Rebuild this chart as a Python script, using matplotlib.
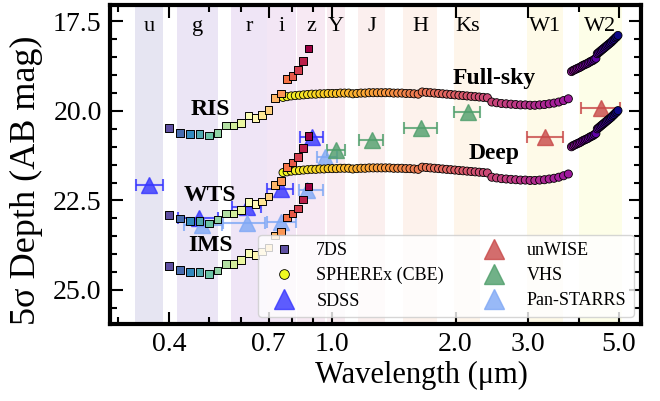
import numpy as np
import matplotlib
matplotlib.use("Agg")
import matplotlib.pyplot as plt
from matplotlib.lines import Line2D
from matplotlib.ticker import FixedLocator, NullFormatter, MultipleLocator

plt.rcParams["font.family"] = ["Liberation Serif", "DejaVu Serif"]

# filter bands drawn as shaded columns
BAND_NAMES = ["u", "g", "r", "i", "z", "Y", "J", "H", "Ks", "W1", "W2"]
BAND_LO = [0.331, 0.419, 0.567, 0.694, 0.822, 0.972, 1.157, 1.49, 1.985, 2.99, 4.00]
BAND_HI = [0.387, 0.527, 0.694, 0.818, 0.961, 1.076, 1.347, 1.80, 2.30, 3.66, 5.10]

# 7DS medium bands
WAVE_7DS = [0.400, 0.425, 0.450, 0.475, 0.500, 0.525, 0.550, 0.575, 0.600, 0.625,
            0.650, 0.675, 0.700, 0.725, 0.750, 0.775, 0.800, 0.825, 0.850, 0.875]
RIS_DEPTH = [20.47, 20.61, 20.65, 20.65, 20.69, 20.62, 20.41, 20.41, 20.34, 20.13,
             20.19, 20.11, 19.97, 19.63, 19.51, 19.11, 19.02, 18.85, 18.60, 18.25]
WTS_DEPTH = [22.91, 23.00, 23.07, 23.07, 23.14, 23.03, 22.86, 22.86, 22.77, 22.55,
             22.60, 22.53, 22.39, 22.07, 21.95, 21.56, 21.44, 21.29, 21.03, 20.70]
IMS_DEPTH = [24.33, 24.44, 24.49, 24.49, 24.55, 24.46, 24.28, 24.28, 24.16, 23.96,
             24.02, 23.93, 23.81, 23.48, 23.37, 22.98, 22.86, 22.72, 22.47, 22.11]

# SPHEREx channels (6 detector bands x 17)
SPHEREX_WAVE = [
    0.7587, 0.7764, 0.7945, 0.8130, 0.8320, 0.8514, 0.8712, 0.8915, 0.9123,
    0.9336, 0.9554, 0.9777, 1.0005, 1.0238, 1.0477, 1.0721, 1.0971,
    1.1228, 1.1489, 1.1756, 1.2029, 1.2308, 1.2594, 1.2887, 1.3186, 1.3492,
    1.3806, 1.4127, 1.4455, 1.4791, 1.5134, 1.5486, 1.5846, 1.6214,
    1.6589, 1.6973, 1.7366, 1.7768, 1.8179, 1.8600, 1.9030, 1.9470, 1.9921,
    2.0382, 2.0853, 2.1336, 2.1830, 2.2335, 2.2852, 2.3380, 2.3921,
    2.4527, 2.5195, 2.5881, 2.6586, 2.7310, 2.8053, 2.8817, 2.9601, 3.0407,
    3.1235, 3.2085, 3.2959, 3.3856, 3.4778, 3.5725, 3.6697, 3.7696,
    3.8364, 3.8695, 3.9028, 3.9365, 3.9704, 4.0046, 4.0391, 4.0739, 4.1090,
    4.1444, 4.1801, 4.2161, 4.2525, 4.2891, 4.3261, 4.3634, 4.4010,
    4.4361, 4.4684, 4.5009, 4.5337, 4.5667, 4.5999, 4.6334, 4.6671, 4.7011,
    4.7353, 4.7698, 4.8045, 4.8395, 4.8747, 4.9102, 4.9459, 4.9819,
]
FULLSKY_DEPTH = [
    19.62, 19.60, 19.58, 19.57, 19.56, 19.55, 19.54, 19.53, 19.53,
    19.52, 19.52, 19.51, 19.51, 19.51, 19.50, 19.50, 19.50,
    19.52, 19.51, 19.50, 19.50, 19.49, 19.49, 19.49, 19.49, 19.49,
    19.49, 19.50, 19.50, 19.50, 19.51, 19.51, 19.52, 19.53,
    19.47, 19.48, 19.49, 19.50, 19.51, 19.52, 19.53, 19.54, 19.55,
    19.56, 19.57, 19.58, 19.59, 19.60, 19.61, 19.62, 19.63,
    19.75, 19.77, 19.79, 19.80, 19.81, 19.82, 19.83, 19.83, 19.84,
    19.84, 19.83, 19.82, 19.80, 19.78, 19.75, 19.71, 19.66,
    18.90, 18.87, 18.85, 18.83, 18.81, 18.79, 18.77, 18.74, 18.72,
    18.70, 18.68, 18.66, 18.63, 18.61, 18.59, 18.56, 18.53,
    18.40, 18.37, 18.34, 18.31, 18.28, 18.25, 18.22, 18.19, 18.16,
    18.13, 18.10, 18.07, 18.03, 18.00, 17.96, 17.93, 17.89,
]
DEEP_DEPTH = [
    21.72, 21.70, 21.68, 21.67, 21.66, 21.65, 21.64, 21.63, 21.63,
    21.62, 21.62, 21.61, 21.61, 21.61, 21.60, 21.60, 21.60,
    21.62, 21.61, 21.60, 21.60, 21.59, 21.59, 21.59, 21.59, 21.59,
    21.59, 21.60, 21.60, 21.60, 21.61, 21.61, 21.62, 21.63,
    21.57, 21.58, 21.59, 21.60, 21.61, 21.62, 21.63, 21.64, 21.65,
    21.66, 21.67, 21.68, 21.69, 21.70, 21.71, 21.72, 21.73,
    21.85, 21.87, 21.89, 21.90, 21.91, 21.92, 21.93, 21.93, 21.94,
    21.94, 21.93, 21.92, 21.90, 21.88, 21.85, 21.81, 21.76,
    21.00, 20.97, 20.95, 20.93, 20.91, 20.89, 20.87, 20.84, 20.82,
    20.80, 20.78, 20.76, 20.73, 20.71, 20.69, 20.66, 20.63,
    20.50, 20.47, 20.44, 20.41, 20.38, 20.35, 20.32, 20.29, 20.26,
    20.23, 20.20, 20.17, 20.13, 20.10, 20.06, 20.03, 19.99,
]

# broad-band surveys: centre, filter edges, depth
SDSS_WAVE = [0.357, 0.472, 0.620, 0.750, 0.892]
SDSS_LO = [0.333, 0.420, 0.570, 0.694, 0.836]
SDSS_HI = [0.386, 0.527, 0.670, 0.804, 0.949]
SDSS_DEPTH = [22.07, 23.00, 22.68, 22.17, 20.72]

PS_WAVE = [0.481, 0.620, 0.752, 0.868, 0.960]
PS_LO = [0.434, 0.542, 0.694, 0.830, 0.920]
PS_HI = [0.539, 0.686, 0.818, 0.950, 1.030]
PS_DEPTH = [23.18, 23.12, 23.10, 22.20, 21.28]

VHS_WAVE = [1.020, 1.250, 1.645, 2.140]
VHS_LO = [0.972, 1.160, 1.500, 1.980]
VHS_HI = [1.076, 1.330, 1.800, 2.300]
VHS_DEPTH = [21.09, 20.81, 20.48, 20.02]

WISE_WAVE = [3.31, 4.52]
WISE_LO = [2.99, 4.05]
WISE_HI = [3.66, 5.04]
WISE_DEPTH = [20.72, 19.92]

SURVEYS = [
    ("SDSS", SDSS_WAVE, SDSS_LO, SDSS_HI, SDSS_DEPTH, "#3535ff"),
    ("Pan-STARRS", PS_WAVE, PS_LO, PS_HI, PS_DEPTH, "#7fa8f5"),
    ("VHS", VHS_WAVE, VHS_LO, VHS_HI, VHS_DEPTH, "#4e9e6b"),
    ("unWISE", WISE_WAVE, WISE_LO, WISE_HI, WISE_DEPTH, "#c84848"),
]

fig = plt.figure(figsize=(6.6, 4.01), dpi=100)
ax = fig.add_axes([110 / 660, 77 / 401, 531 / 660, 319 / 401])

band_cmap = plt.get_cmap("plasma")
for i, (name, lo, hi) in enumerate(zip(BAND_NAMES, BAND_LO, BAND_HI)):
    ax.axvspan(lo, hi, color=band_cmap(i / (len(BAND_NAMES) - 1)), alpha=0.1, lw=0, zorder=0)
    ax.text(np.sqrt(lo * hi), 17.65, name, ha="center", va="center", fontsize=16, zorder=6)

for name, w, lo, hi, d, c in SURVEYS:
    w = np.array(w)
    xerr = [w - np.array(lo), np.array(hi) - w]
    ax.errorbar(w, d, xerr=xerr, fmt="^", ms=11, color=c, alpha=0.8,
                capsize=4, elinewidth=1.5, capthick=1.5, zorder=2)

sx_colors = plt.get_cmap("plasma_r")(np.linspace(0, 1, len(SPHEREX_WAVE)))
for depth in [FULLSKY_DEPTH, DEEP_DEPTH]:
    ax.scatter(SPHEREX_WAVE, depth, s=34, c=sx_colors, edgecolors="k",
               linewidths=0.6, zorder=3)

ds_colors = plt.get_cmap("Spectral_r")(np.linspace(0, 1, len(WAVE_7DS)))
for depth in [RIS_DEPTH, WTS_DEPTH, IMS_DEPTH]:
    ax.scatter(WAVE_7DS, depth, s=30, marker="s", c=ds_colors, edgecolors="k",
               linewidths=0.7, zorder=4)

for txt, x, y in [("RIS", 0.504, 19.95), ("WTS", 0.504, 22.35), ("IMS", 0.504, 23.77),
                  ("Full-sky", 2.485, 19.08), ("Deep", 2.485, 21.2)]:
    ax.text(x, y, txt, ha="center", va="center", fontsize=17, fontweight="bold", zorder=6)

ax.set_xscale("log")
ax.set_xlim(0.287, 5.67)
ax.set_ylim(25.95, 17.04)
ax.xaxis.set_major_locator(FixedLocator([0.4, 0.7, 1.0, 2.0, 3.0, 5.0]))
ax.xaxis.set_minor_locator(FixedLocator([0.3, 0.5, 0.6, 0.8, 0.9, 4.0]))
ax.xaxis.set_minor_formatter(NullFormatter())
ax.set_xticklabels(["0.4", "0.7", "1.0", "2.0", "3.0", "5.0"])
ax.yaxis.set_major_locator(FixedLocator([17.5, 20.0, 22.5, 25.0]))
ax.yaxis.set_minor_locator(MultipleLocator(0.5))
ax.set_yticklabels(["17.5", "20.0", "22.5", "25.0"])
ax.tick_params(which="both", direction="in", top=True, right=True, labelsize=20, width=1.5)
ax.tick_params(which="major", length=9, pad=6)
ax.tick_params(which="minor", length=5)
for sp in ax.spines.values():
    sp.set_linewidth(3)

ax.set_xlabel("Wavelength (μm)", fontsize=22)
ax.set_ylabel("5σ Depth (AB mag)", fontsize=26)
ax.xaxis.set_label_coords(0.586, -0.115)
ax.yaxis.set_label_coords(-0.126, 0.451)

handles = [
    Line2D([], [], ls="none", marker="s", ms=6, mfc=ds_colors[0], mec="k", mew=0.7, label="7DS"),
    Line2D([], [], ls="none", marker="o", ms=7, mfc=sx_colors[0], mec="k", mew=0.6, label="SPHEREx (CBE)"),
    Line2D([], [], ls="none", marker="^", ms=14, color="#3535ff", alpha=0.8, label="SDSS"),
    Line2D([], [], ls="none", marker="^", ms=14, color="#c84848", alpha=0.8, label="unWISE"),
    Line2D([], [], ls="none", marker="^", ms=14, color="#4e9e6b", alpha=0.8, label="VHS"),
    Line2D([], [], ls="none", marker="^", ms=14, color="#7fa8f5", alpha=0.8, label="Pan-STARRS"),
]
ax.legend(handles=handles, loc="lower right", ncol=2, fontsize=13, framealpha=0.8,
          labelspacing=0.45, borderaxespad=0.4, columnspacing=1.8)

fig.savefig("out.png", dpi=100)
